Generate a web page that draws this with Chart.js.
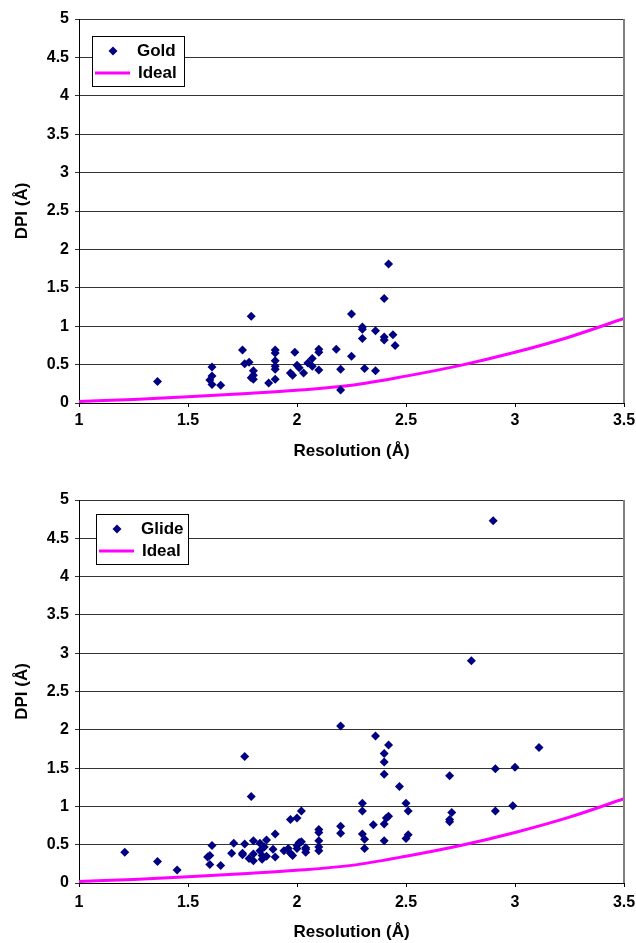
<!DOCTYPE html>
<html>
<head>
<meta charset="utf-8">
<script src="https://cdn.jsdelivr.net/npm/chart.js@4"></script>
<style>
  html, body { margin: 0; padding: 0; background: #fff; }
  .box { position: relative; width: 636px; }
  #top { height: 470px; }
  #bottom { height: 473px; }
</style>
</head>
<body>
<div class="box" id="top"><canvas id="goldChart"></canvas></div>
<div class="box" id="bottom"><canvas id="glideChart"></canvas></div>
<script>
// values
const goldRes = [1.36, 1.61, 1.61, 1.60, 1.61, 1.65, 1.75, 1.79, 1.76, 1.78, 1.80, 1.79, 1.80, 1.80, 1.87,
  1.90, 1.90, 1.90, 1.90, 1.90, 1.90, 1.99, 2.00, 2.01, 1.97, 1.98, 2.03, 2.05, 2.07, 2.07, 2.10, 2.10, 2.10,
  2.18, 2.20, 2.20, 2.25, 2.25, 2.30, 2.30, 2.30, 2.31, 2.36, 2.36, 2.40, 2.40, 2.40, 2.42, 2.44, 2.45];
const goldDpi = [0.28, 0.47, 0.35, 0.30, 0.24, 0.23, 0.69, 1.13, 0.51, 0.53, 0.42, 0.33, 0.36, 0.31, 0.26,
  0.69, 0.65, 0.55, 0.48, 0.44, 0.31, 0.66, 0.49, 0.46, 0.39, 0.36, 0.39, 0.52, 0.58, 0.48, 0.70, 0.66, 0.43,
  0.70, 0.44, 0.17, 1.16, 0.61, 0.99, 0.96, 0.84, 0.45, 0.94, 0.42, 1.36, 0.86, 0.82, 1.81, 0.89, 0.75];

const glideRes = [1.21, 1.36, 1.45, 1.61, 1.60, 1.59, 1.60, 1.65, 1.70, 1.71, 1.76, 1.79, 1.76, 1.75, 1.75,
  1.78, 1.80, 1.80, 1.80, 1.83, 1.83, 1.85, 1.84, 1.84, 1.86, 1.86, 1.89, 1.90, 1.90, 1.94, 1.96, 1.97, 1.97,
  1.98, 2.00, 2.02, 2.00, 2.01, 2.00, 2.04, 2.04, 2.10, 2.10, 2.10, 2.10, 2.10, 2.20, 2.20, 2.20, 2.30, 2.30,
  2.30, 2.90, 2.80, 2.36, 2.42, 2.40, 2.40, 2.40, 2.47, 2.50, 2.51, 2.35, 2.40, 2.41, 2.42, 2.40, 2.31, 2.31,
  2.50, 2.51, 2.70, 2.71, 2.70, 2.70, 2.91, 2.91, 3.00, 2.99, 3.11, 2.04, 2.02];
const glideDpi = [0.40, 0.28, 0.17, 0.49, 0.36, 0.34, 0.24, 0.23, 0.39, 0.52, 1.65, 1.13, 0.51, 0.39, 0.37,
  0.32, 0.55, 0.38, 0.29, 0.52, 0.42, 0.47, 0.36, 0.31, 0.56, 0.35, 0.44, 0.64, 0.34, 0.42, 0.45, 0.83, 0.39,
  0.36, 0.85, 0.94, 0.49, 0.53, 0.45, 0.46, 0.40, 0.70, 0.66, 0.55, 0.47, 0.42, 2.05, 0.74, 0.65, 1.04, 0.94,
  0.64, 4.73, 2.90, 1.92, 1.80, 1.69, 1.58, 1.42, 1.26, 1.04, 0.94, 0.76, 0.77, 0.85, 0.87, 0.55, 0.57, 0.45,
  0.58, 0.63, 1.40, 0.92, 0.83, 0.80, 1.49, 0.94, 1.51, 1.01, 1.77, 0.44, 0.54];

const idealRes = [1.0, 1.25, 1.5, 1.75, 2.0, 2.25, 2.5, 2.75, 3.0, 3.25, 3.5];
const idealDpi = [0.02, 0.045, 0.08, 0.12, 0.165, 0.23, 0.35, 0.49, 0.66, 0.86, 1.1];

const FONT = "'Liberation Sans', Arial, sans-serif";
const NAVY = "#000080";
const MAGENTA = "#FF00FF";

const toPoints = (xs, ys) => xs.map((x, i) => ({ x: x, y: ys[i] }));
const plainNum = (v) => String(v); // 1 instead of 1.0

// right frame edge + the boxed legend inside the plot
const framePlugin = {
  id: "frame",
  afterDraw(chart, args, opts) {
    const { ctx, chartArea } = chart;
    ctx.save();
    ctx.strokeStyle = "#808080";
    ctx.lineWidth = 2;
    ctx.beginPath();
    ctx.moveTo(chartArea.right, chartArea.top);
    ctx.lineTo(chartArea.right, chartArea.bottom);
    ctx.stroke();

    const left = chartArea.left + opts.dx;
    const top = chartArea.top + opts.dy;
    ctx.fillStyle = "#fff";
    ctx.fillRect(left, top, 92, 50);
    ctx.strokeStyle = "#000";
    ctx.lineWidth = 1;
    ctx.strokeRect(left + 0.5, top + 0.5, 92, 50);

    // diamond
    ctx.fillStyle = NAVY;
    ctx.beginPath();
    const cx = left + 21, cy = top + 15;
    ctx.moveTo(cx, cy - 4.5);
    ctx.lineTo(cx + 4.5, cy);
    ctx.lineTo(cx, cy + 4.5);
    ctx.lineTo(cx - 4.5, cy);
    ctx.closePath();
    ctx.fill();

    // line
    ctx.strokeStyle = MAGENTA;
    ctx.lineWidth = 3;
    ctx.beginPath();
    ctx.moveTo(left + 3, top + 37);
    ctx.lineTo(left + 38, top + 37);
    ctx.stroke();

    ctx.fillStyle = "#000";
    ctx.font = "bold 17px " + FONT;
    ctx.textBaseline = "middle";
    ctx.textAlign = "left";
    ctx.fillText(opts.label, left + 45, top + 15);
    ctx.fillText("Ideal", left + 46, top + 37);
    ctx.restore();
  },
};

function makeChart(id, label, xs, ys, cfg) {
  return new Chart(document.getElementById(id), {
    type: "scatter",
    data: {
      datasets: [
        {
          label: label,
          data: toPoints(xs, ys),
          pointStyle: "rectRot",
          pointRadius: 4.5,
          pointHoverRadius: 4.5,
          backgroundColor: NAVY,
          borderColor: NAVY,
          borderWidth: 0,
        },
        {
          label: "Ideal",
          data: toPoints(idealRes, idealDpi),
          showLine: true,
          pointRadius: 0,
          borderColor: MAGENTA,
          borderWidth: 3,
          cubicInterpolationMode: "monotone",
        },
      ],
    },
    options: {
      responsive: true,
      maintainAspectRatio: false,
      animation: false,
      layout: { padding: { top: cfg.top, right: 12, left: 0, bottom: 0 } },
      plugins: {
        legend: { display: false },
        tooltip: { enabled: false },
        frame: { dx: cfg.legX, dy: cfg.legY, label: label },
      },
      scales: {
        x: {
          type: "linear",
          min: 1,
          max: 3.5,
          afterFit: (s) => {
            s.height = cfg.xHeight;
            s.paddingRight = 0; // let "3.5" hang over the edge like the original
          },
          ticks: {
            stepSize: 0.5,
            padding: cfg.tickPad,
            color: "#000",
            font: { family: FONT, size: 16, weight: "bold" },
            maxRotation: 0,
            callback: plainNum,
          },
          grid: { drawOnChartArea: false, drawTicks: true, tickLength: 4, color: "#000" },
          border: { color: "#000", width: 1 },
          title: {
            display: true,
            text: "Resolution (Å)",
            color: "#000",
            font: { family: FONT, size: 17, weight: "bold" },
            padding: { top: 0, bottom: cfg.titlePad },
          },
        },
        y: {
          min: 0,
          max: 5,
          afterFit: (s) => { s.width = 79; },
          ticks: {
            stepSize: 0.5,
            padding: 6,
            color: "#000",
            font: { family: FONT, size: 16, weight: "bold" },
            callback: plainNum,
          },
          grid: { color: "#333", lineWidth: 1, drawTicks: true, tickLength: 4 },
          border: { color: "#000", width: 1 },
          title: {
            display: true,
            text: "DPI (Å)",
            color: "#000",
            font: { family: FONT, size: 17, weight: "bold" },
            padding: { top: 12, bottom: 0 },
          },
        },
      },
    },
    plugins: [framePlugin],
  });
}

makeChart("goldChart", "Gold", goldRes, goldDpi,
  { top: 19, xHeight: 67, tickPad: 4, titlePad: 8, legX: 13, legY: 17 });
makeChart("glideChart", "Glide", glideRes, glideDpi,
  { top: 30, xHeight: 60, tickPad: 6, titlePad: 0, legX: 17, legY: 14 });
</script>
</body>
</html>
